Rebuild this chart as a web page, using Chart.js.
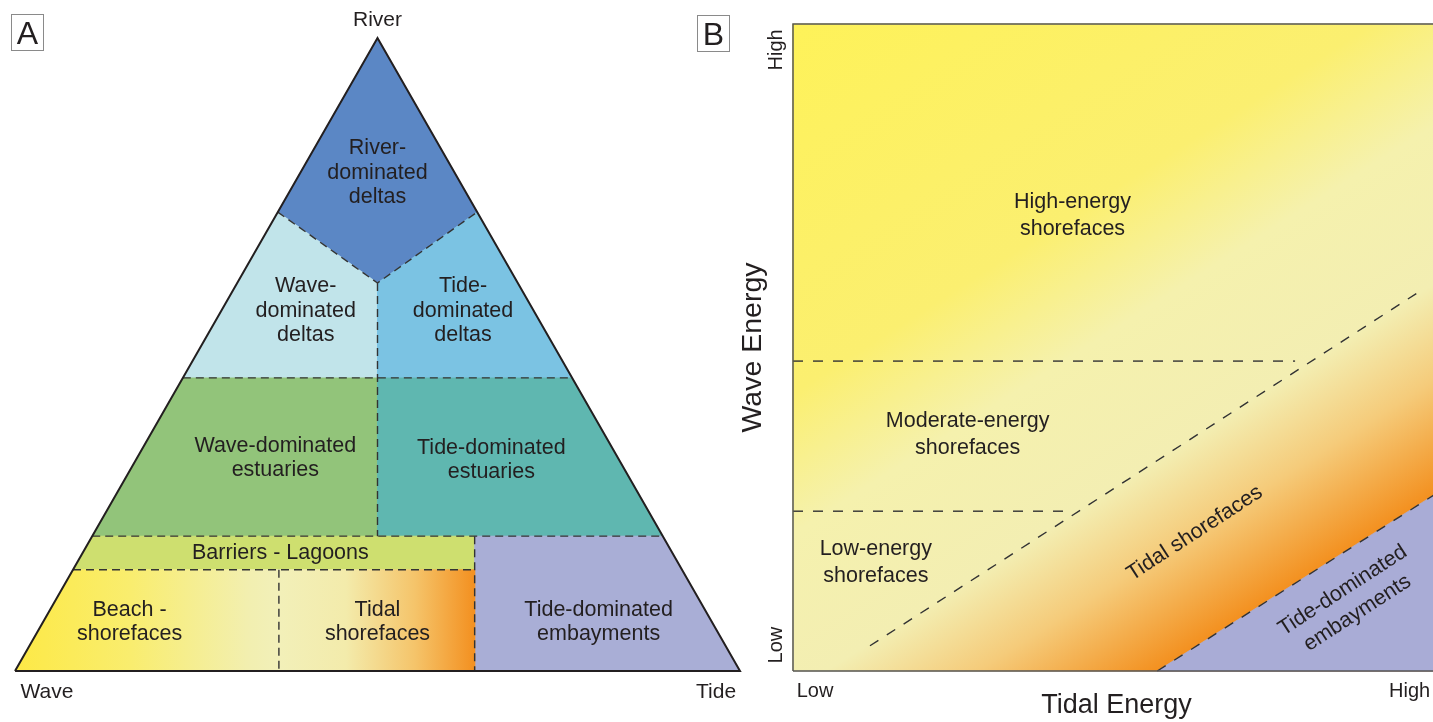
<!DOCTYPE html>
<html>
<head>
<meta charset="utf-8">
<script src="https://cdn.jsdelivr.net/npm/chart.js@4/dist/chart.umd.min.js"></script>
<style>
   html, body { margin: 0; padding: 0; background: #fff; overflow: hidden; width: 1433px; height: 722px; }
   #wrap { position: relative; width: 1433px; height: 722px; }
   canvas { position: absolute; top: 0; }
   #chartA { left: 0; }
   #chartB { left: 736px; }
   .tag { position: absolute; width: 31px; height: 35px; border: 1px solid #8a8a8a; color: #231f20;
          font: 32px "Liberation Sans", Arial, sans-serif; line-height: 36px; text-align: center; }
</style>
</head>
<body>
<div id="wrap">
   <canvas id="chartA" width="750" height="722"></canvas>
   <canvas id="chartB" width="724" height="722"></canvas>
   <div class="tag" style="left:11px; top:14px;">A</div>
   <div class="tag" style="left:697px; top:15px;">B</div>
</div>
<script>
   // Panel A: ternary diagram, x runs Wave (0) -> Tide (100), y is River influence (0-100)
   // ----------------------------------------------
   const triangleA        = [[0, 0], [50, 100], [100, 0], [0, 0]];
   const riverDeltas      = [[50, 100], [36.25, 72.5], [50, 61.3], [63.75, 72.5], [50, 100]];
   const waveDeltas       = [[36.25, 72.5], [50, 61.3], [50, 46.3], [23.15, 46.3], [36.25, 72.5]];
   const tideDeltas       = [[63.75, 72.5], [50, 61.3], [50, 46.3], [76.85, 46.3], [63.75, 72.5]];
   const waveEstuaries    = [[23.15, 46.3], [50, 46.3], [50, 21.3], [10.65, 21.3], [23.15, 46.3]];
   const tideEstuaries    = [[50, 46.3], [76.85, 46.3], [89.35, 21.3], [50, 21.3], [50, 46.3]];
   const barrierLagoons   = [[10.65, 21.3], [63.4, 21.3], [63.4, 16], [8, 16], [10.65, 21.3]];
   const embaymentsA      = [[63.4, 21.3], [89.35, 21.3], [100, 0], [63.4, 0], [63.4, 21.3]];
   const beachShorefaces  = [[8, 16], [36.4, 16], [36.4, 0], [0, 0], [8, 16]];
   const tidalShorefacesA = [[36.4, 16], [63.4, 16], [63.4, 0], [36.4, 0], [36.4, 16]];
   const boundariesA = [
      [[36.25, 72.5], [50, 61.3], [63.75, 72.5]],
      [[50, 61.3], [50, 21.3]],
      [[23.15, 46.3], [76.85, 46.3]],
      [[10.65, 21.3], [89.35, 21.3]],
      [[8, 16], [63.4, 16]],
      [[63.4, 21.3], [63.4, 0]],
      [[36.4, 16], [36.4, 0]]
   ];
   const regionsA = [riverDeltas, waveDeltas, tideDeltas, waveEstuaries, tideEstuaries,
                     barrierLagoons, embaymentsA, beachShorefaces, tidalShorefacesA];
   const regionNamesA = ['River-\ndominated\ndeltas', 'Wave-\ndominated\ndeltas', 'Tide-\ndominated\ndeltas',
                         'Wave-dominated\nestuaries', 'Tide-dominated\nestuaries', 'Barriers - Lagoons',
                         'Tide-dominated\nembayments', 'Beach -\nshorefaces', 'Tidal\nshorefaces'];
   const cornerNamesA = ['River', 'Wave', 'Tide'];

   // Panel B: wave energy vs tidal energy (0 = low, 100 = high)
   // ----------------------------------------------
   const frameB      = [[0, 0], [100, 0], [100, 100], [0, 100], [0, 0]];
   const embaymentsB = [[56.3, 0], [100, 27.8], [100, 0], [56.3, 0]];
   const boundariesB = [
      [[0, 47.9], [77.6, 47.9]],
      [[0, 24.7], [42, 24.7]],
      [[11.9, 3.9], [96.9, 58.7]],
      [[56.3, 0], [100, 27.8]]
   ];
   const zoneNamesB   = ['High-energy\nshorefaces', 'Moderate-energy\nshorefaces', 'Low-energy\nshorefaces',
                         'Tidal shorefaces', 'Tide-dominated\nembayments'];
   const xTickValuesB = [3.4, 95.3];
   const xTickLabelsB = ['Low', 'High'];
   const yTickValuesB = [4, 96];
   const yTickLabelsB = ['Low', 'High'];

   // Layout of the annotations (data units of each panel)
   // ----------------------------------------------
   const regionSpotsA = [[50, 78.7], [40.1, 56.9], [61.8, 56.9], [35.9, 33.6], [65.7, 33.3],
                         [36.6, 18.6], [80.5, 7.7], [15.8, 7.7], [50, 7.7]];
   const cornerSpotsA = [[50, 102.8], [4.4, -3.3], [96.7, -3.3]];
   const zoneSpotsB   = [[43.2, 70.4], [27, 36.5], [12.8, 16.8], [62.1, 21.3], [86.1, 10.7]];
   const zoneTiltB    = [0, 0, 0, -33, -33];

   const FONT = '"Liberation Sans", Arial, Helvetica, sans-serif';
   const INK  = '#231f20';
   const DASH = '#333333';

   // Shore-face colour ramps, built on the scales' pixels
   // ----------------------------------------------
   function shoreRampA(context) {
      const chart = context.chart;
      const xs = chart.scales.x;
      if (!chart.chartArea || !xs) return '#f2f0b9';
      const g = chart.ctx.createLinearGradient(xs.getPixelForValue(0), 0, xs.getPixelForValue(63.4), 0);
      g.addColorStop(0, '#fde946');
      g.addColorStop(0.25, '#f9ed6e');
      g.addColorStop(0.51, '#f2efb0');
      g.addColorStop(0.57, '#f2f0b9');
      g.addColorStop(0.72, '#f3ebab');
      g.addColorStop(0.87, '#f5c46a');
      g.addColorStop(1, '#f39020');
      return g;
   }

   function energyRampB(context) {
      const chart = context.chart;
      const { x, y } = chart.scales;
      if (!chart.chartArea || !x) return '#f4f1b4';
      // run the ramp across the tidal boundary, from the high-wave / low-tide corner
      const p1 = [x.getPixelForValue(56.3), y.getPixelForValue(0)];
      const p2 = [x.getPixelForValue(100), y.getPixelForValue(27.8)];
      const len = Math.hypot(p2[0] - p1[0], p2[1] - p1[1]);
      const u = [-(p2[1] - p1[1]) / len, (p2[0] - p1[0]) / len];
      const s = [x.getPixelForValue(0), y.getPixelForValue(100)];
      const d = (p1[0] - s[0]) * u[0] + (p1[1] - s[1]) * u[1];
      const g = chart.ctx.createLinearGradient(s[0], s[1], s[0] + u[0] * d, s[1] + u[1] * d);
      g.addColorStop(0, '#fef259');
      g.addColorStop(0.42, '#fbef70');
      g.addColorStop(0.58, '#f5f1ad');
      g.addColorStop(0.76, '#f3eeb2');
      g.addColorStop(0.87, '#f5cb7a');
      g.addColorStop(1, '#f3901f');
      return g;
   }

   const toPts = arr => arr.map(([x, y]) => ({ x, y }));

   const areaSet = (points, color) => ({
      data: toPts(points),
      showLine: true,
      fill: 'shape',
      backgroundColor: color,
      borderColor: color,
      borderWidth: 0.8,
      pointRadius: 0,
      tension: 0,
      clip: false
   });

   const lineSet = (points, color, width, dash) => ({
      data: toPts(points),
      showLine: true,
      fill: false,
      borderColor: color,
      borderWidth: width,
      borderDash: dash,
      pointRadius: 0,
      tension: 0,
      clip: false
   });

   // paint order: first in list is painted first
   const stack = sets => sets.map((s, i) => Object.assign(s, { order: sets.length - i }));

   // Text on the chart area
   // ----------------------------------------------
   const textLayer = items => ({
      id: 'textLayer',
      afterDatasetsDraw(chart) {
         const { ctx, scales: { x, y } } = chart;
         ctx.save();
         ctx.fillStyle = INK;
         ctx.textAlign = 'center';
         ctx.textBaseline = 'middle';
         items.forEach(it => {
            const lines = it.text.split('\n');
            ctx.save();
            ctx.translate(x.getPixelForValue(it.at[0]), y.getPixelForValue(it.at[1]));
            ctx.rotate((it.tilt || 0) * Math.PI / 180);
            ctx.font = it.size + 'px ' + FONT;
            lines.forEach((ln, i) => ctx.fillText(ln, 0, (i - (lines.length - 1) / 2) * it.lh));
            ctx.restore();
         });
         ctx.restore();
      }
   });

   const quiet = {
      legend: { display: false },
      tooltip: { enabled: false }
   };

   // Panel A chart
   // ----------------------------------------------
   const fillsA = ['#5b87c5', '#c1e4ea', '#7bc3e3', '#92c47a', '#5fb7b0',
                   '#cedf6f', '#a9aed6', shoreRampA, shoreRampA];

   const labelsA = regionNamesA.map((t, i) => ({ text: t, at: regionSpotsA[i], size: 21.5, lh: 24.5 }))
      .concat(cornerNamesA.map((t, i) => ({ text: t, at: cornerSpotsA[i], size: 21, lh: 22 })));

   new Chart(document.getElementById('chartA'), {
      type: 'scatter',
      data: {
         datasets: stack([
            ...regionsA.map((r, i) => areaSet(r, fillsA[i])),
            ...boundariesA.map(b => lineSet(b, DASH, 1.4, [8, 5])),
            lineSet(triangleA, INK, 2, [])
         ])
      },
      options: {
         responsive: false,
         animation: false,
         events: [],
         layout: { padding: { left: 15, right: 10, top: 38, bottom: 51 } },
         plugins: quiet,
         scales: {
            x: { type: 'linear', min: 0, max: 100, display: false },
            y: { type: 'linear', min: 0, max: 100, display: false }
         }
      },
      plugins: [textLayer(labelsA)]
   });

   // Panel B chart
   // ----------------------------------------------
   const labelsB = zoneNamesB.map((t, i) => ({ text: t, at: zoneSpotsB[i], size: 21.5, lh: 27, tilt: zoneTiltB[i] }));

   new Chart(document.getElementById('chartB'), {
      type: 'scatter',
      data: {
         datasets: stack([
            areaSet(frameB, energyRampB),
            areaSet(embaymentsB, '#a9acd6'),
            ...boundariesB.map(b => lineSet(b, DASH, 1.4, [10, 10])),
            lineSet(frameB, '#555555', 1.5, [])
         ])
      },
      options: {
         responsive: false,
         animation: false,
         events: [],
         layout: { padding: { left: 0, right: 20, top: 24, bottom: 0 } },
         plugins: quiet,
         scales: {
            x: {
               type: 'linear',
               position: 'bottom',
               min: 0,
               max: 100,
               grid: { display: false, drawTicks: false },
               border: { display: false },
               afterBuildTicks: scale => { scale.ticks = xTickValuesB.map(v => ({ value: v })); },
               afterFit: scale => { scale.height = 51; },
               ticks: {
                  autoSkip: false,
                  maxRotation: 0,
                  padding: 8,
                  color: INK,
                  font: { family: FONT, size: 20 },
                  callback: (v, i) => xTickLabelsB[i]
               },
               title: {
                  display: true,
                  text: 'Tidal Energy',
                  color: INK,
                  padding: 0,
                  font: { family: FONT, size: 27 }
               }
            },
            y: {
               type: 'linear',
               position: 'left',
               min: 0,
               max: 100,
               grid: { display: false, drawTicks: false },
               border: { display: false },
               afterBuildTicks: scale => { scale.ticks = yTickValuesB.map(v => ({ value: v })); },
               afterFit: scale => { scale.width = 57; },
               ticks: {
                  autoSkip: false,
                  minRotation: 90,
                  maxRotation: 90,
                  crossAlign: 'center',
                  padding: -4,
                  color: INK,
                  font: { family: FONT, size: 20 },
                  callback: (v, i) => yTickLabelsB[i]
               },
               title: {
                  display: true,
                  text: 'Wave Energy',
                  color: INK,
                  padding: 0,
                  font: { family: FONT, size: 28.5 }
               }
            }
         }
      },
      plugins: [textLayer(labelsB)]
   });
</script>
</body>
</html>
